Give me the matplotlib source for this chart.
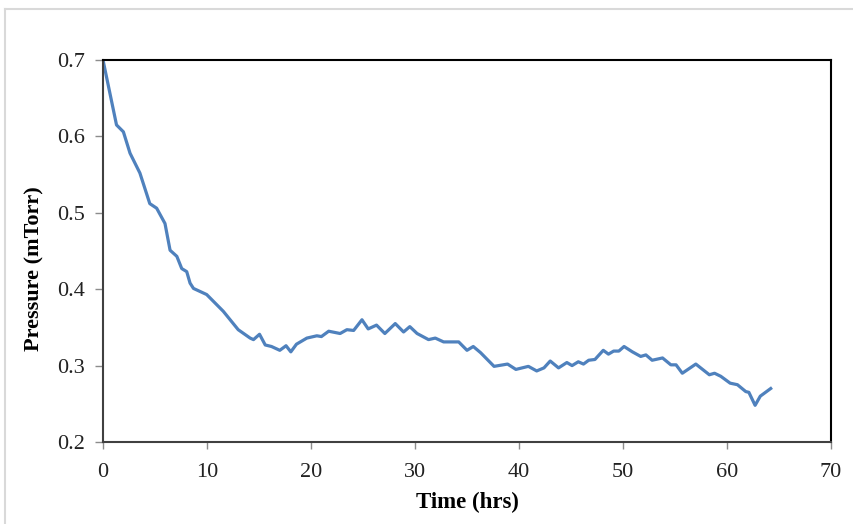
import matplotlib.pyplot as plt
from matplotlib.lines import Line2D

# time (hrs) and pressure (mTorr)
time_hrs = [0.0, 1.3, 1.96, 2.6, 3.55, 4.5, 5.16, 5.96, 6.45, 7.1, 7.57, 8.05, 8.37, 8.7,
            9.97, 11.57, 13.0, 14.15, 14.47, 15.05, 15.6, 16.2, 17.0, 17.6, 18.06, 18.6,
            19.6, 20.56, 21.0, 21.7, 22.8, 23.45, 24.1, 24.9, 25.5, 26.3, 27.1, 28.1,
            28.9, 29.5, 30.2, 31.3, 31.95, 32.75, 34.2, 35.0, 35.6, 36.3, 37.6, 38.9,
            39.7, 40.9, 41.7, 42.4, 43.0, 43.8, 44.6, 45.1, 45.7, 46.2, 46.7, 47.3,
            48.1, 48.6, 49.1, 49.6, 50.1, 50.9, 51.7, 52.2, 52.8, 53.8, 54.6, 55.1,
            55.7, 57.0, 58.3, 58.8, 59.4, 60.3, 61.0, 61.8, 62.1, 62.7, 63.2, 64.2]
pressure = [0.700, 0.615, 0.606, 0.578, 0.552, 0.512, 0.506, 0.486, 0.451, 0.443, 0.427,
            0.423, 0.408, 0.401, 0.393, 0.371, 0.347, 0.336, 0.334, 0.341, 0.327, 0.325,
            0.320, 0.326, 0.318, 0.328, 0.336, 0.339, 0.338, 0.345, 0.342, 0.347, 0.346,
            0.360, 0.348, 0.353, 0.342, 0.355, 0.344, 0.351, 0.342, 0.334, 0.336, 0.331,
            0.331, 0.320, 0.325, 0.317, 0.299, 0.302, 0.295, 0.299, 0.293, 0.297, 0.306,
            0.297, 0.304, 0.300, 0.305, 0.302, 0.307, 0.308, 0.320, 0.315, 0.319, 0.319,
            0.325, 0.318, 0.312, 0.314, 0.307, 0.310, 0.301, 0.301, 0.290, 0.302, 0.288,
            0.290, 0.286, 0.277, 0.275, 0.266, 0.265, 0.248, 0.260, 0.270]

x_ticks = [0, 10, 20, 30, 40, 50, 60, 70]
y_ticks = [0.2, 0.3, 0.4, 0.5, 0.6, 0.7]

plt.rcParams['font.family'] = ['Liberation Serif', 'DejaVu Serif']

fig = plt.figure(figsize=(8.54, 5.24), dpi=100)
# faint outer chart frame (only top and left edges show)
fig.lines.append(Line2D([0.006, 0.006], [0.0, 0.983], transform=fig.transFigure,
                        color='#d9d9d9', linewidth=1.5))
fig.lines.append(Line2D([0.006, 1.0], [0.983, 0.983], transform=fig.transFigure,
                        color='#d9d9d9', linewidth=1.5))

ax = fig.add_axes([0.1206, 0.1565, 0.8525, 0.729])

ax.plot(time_hrs, pressure, color='#4f81bd', linewidth=2.3)

ax.set_xlim(0, 70)
ax.set_ylim(0.2, 0.7)
ax.set_xticks(x_ticks)
ax.set_yticks(y_ticks)
ax.set_yticklabels([f'{v:.1f}' for v in y_ticks])
ax.tick_params(direction='out', width=1, color='#8c8c8c', labelsize=16, labelcolor='#222222')
ax.tick_params(axis='x', length=5, pad=10)
ax.tick_params(axis='y', length=6, pad=7)
for s in ax.spines.values():
    s.set_linewidth(1.5)
    s.set_color('black')
ax.spines['left'].set_color('#404040')
ax.spines['bottom'].set_color('#404040')

ax.set_xlabel('Time (hrs)', fontsize=16.5, fontweight='bold', labelpad=7.5)
ax.set_ylabel('Pressure (mTorr)', fontsize=16, fontweight='bold')
ax.yaxis.set_label_coords(-0.081, 0.453)

fig.savefig('out.png', dpi=100)
